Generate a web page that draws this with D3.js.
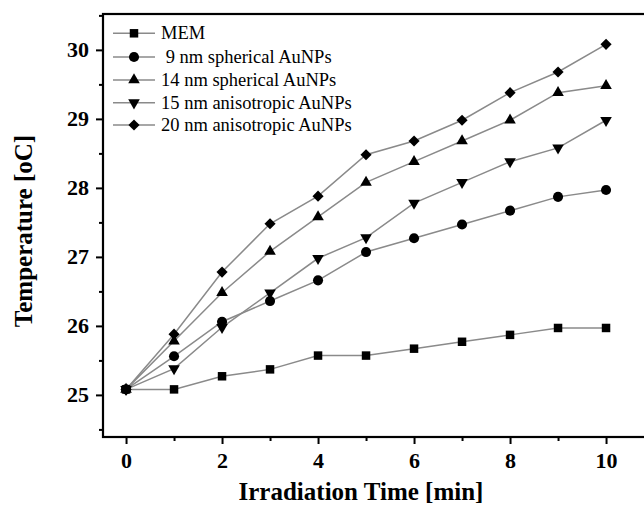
<!DOCTYPE html>
<html><head><meta charset="utf-8">
<script src="https://cdn.jsdelivr.net/npm/d3@7"></script>
<style>body{margin:0;background:#fff}svg{display:block}</style>
</head><body>
<svg id="c" width="644" height="508"></svg>
<script>
const times = [0,1,2,3,4,5,6,7,8,9,10];
const seriesNames = ["MEM"," 9 nm spherical AuNPs","14 nm spherical AuNPs","15 nm anisotropic AuNPs","20 nm anisotropic AuNPs"];
const mem      = [25.08,25.08,25.27,25.37,25.57,25.57,25.67,25.77,25.87,25.97,25.97];
const sph9     = [25.08,25.56,26.06,26.36,26.66,27.07,27.27,27.47,27.67,27.87,27.97];
const sph14    = [25.08,25.78,26.48,27.08,27.58,28.08,28.38,28.68,28.98,29.38,29.48];
const aniso15  = [25.08,25.38,25.98,26.48,26.98,27.28,27.78,28.08,28.38,28.58,28.98];
const aniso20  = [25.08,25.88,26.78,27.48,27.88,28.48,28.68,28.98,29.38,29.68,30.08];
const xTicks = [0,2,4,6,8,10];
const yTicks = [25,26,27,28,29,30];
const xTitle = "Irradiation Time [min]";
const yTitle = "Temperature [oC]";

const svg = d3.select("#c");
const L = 103, T = 14, B = 437, R = 660;
const x = d3.scaleLinear().domain([-0.48, 11.1]).range([L, L + 11.58*48]);
const y = d3.scaleLinear().domain([24.39, 30.52]).range([B, T]);

const seriesVals = [mem, sph9, sph14, aniso15, aniso20];
const sq = d3.symbol().type(d3.symbolSquare).size(72);
const circ = d3.symbol().type(d3.symbolCircle).size(80);
const tri = d3.symbol().type(d3.symbolTriangle).size(58);
const dia = d3.symbol().type(d3.symbolSquare).size(62);
const shapes = [
  {p: sq(), rot: 0},
  {p: circ(), rot: 0},
  {p: tri(), rot: 0},
  {p: tri(), rot: 180},
  {p: dia(), rot: 45}
];

const serif = "'Liberation Serif','Times New Roman',serif";

const xAxis = d3.axisBottom(x).tickValues(xTicks).tickSize(7).tickPadding(8).tickFormat(d3.format("d"));
const xMinor = d3.axisBottom(x).tickValues([1,3,5,7,9]).tickSize(4).tickFormat("");
const yAxis = d3.axisLeft(y).tickValues(yTicks).tickSize(7).tickPadding(7).tickFormat(d3.format("d"));
const yMinor = d3.axisLeft(y).tickValues([24.5,25.5,26.5,27.5,28.5,29.5,30.5]).tickSize(4).tickFormat("");

function styleAxis(g){
  g.select(".domain").remove();
  g.selectAll("line").attr("stroke","#000").attr("stroke-width",2);
  g.selectAll("text").attr("font-family",serif).attr("font-weight","bold").attr("font-size",22).attr("fill","#000");
}
svg.append("g").attr("transform",`translate(0,${B})`).call(xAxis).call(styleAxis);
svg.append("g").attr("transform",`translate(0,${B})`).call(xMinor).call(styleAxis);
svg.append("g").attr("transform",`translate(${L},0)`).call(yAxis).call(styleAxis);
svg.append("g").attr("transform",`translate(${L},0)`).call(yMinor).call(styleAxis);

svg.append("rect").attr("x",L).attr("y",T).attr("width",R-L).attr("height",B-T)
  .attr("fill","none").attr("stroke","#000").attr("stroke-width",2.2);

const line = d3.line().x((d,i)=>x(times[i])).y(d=>y(d));
seriesVals.forEach((vals)=>{
  svg.append("path").attr("d",line(vals)).attr("fill","none").attr("stroke","#8a8a8a").attr("stroke-width",1.5);
});
seriesVals.forEach((vals,si)=>{
  svg.append("g").selectAll("path").data(vals).join("path")
    .attr("d",shapes[si].p)
    .attr("transform",(d,i)=>`translate(${x(times[i])},${y(d)}) rotate(${shapes[si].rot})`)
    .attr("fill","#000");
});

const lg = svg.append("g");
const rowY = [33.3,57,80,102.7,125];
seriesNames.forEach((n,i)=>{
  lg.append("line").attr("x1",113).attr("x2",155).attr("y1",rowY[i]).attr("y2",rowY[i])
    .attr("stroke","#8a8a8a").attr("stroke-width",1.5);
  lg.append("path").attr("d",shapes[i].p).attr("transform",`translate(134,${rowY[i]}) rotate(${shapes[i].rot})`).attr("fill","#000");
  lg.append("text").attr("x",161).attr("y",rowY[i]+6).text(n)
    .attr("font-family",serif).attr("font-size",18.5).attr("fill","#000").style("white-space","pre");
});

svg.append("text").attr("x",361).attr("y",500).attr("text-anchor","middle").text(xTitle)
  .attr("font-family",serif).attr("font-weight","bold").attr("font-size",25).attr("fill","#000");
svg.append("text").attr("transform","translate(32,231) rotate(-90)").attr("text-anchor","middle").text(yTitle)
  .attr("font-family",serif).attr("font-weight","bold").attr("font-size",25).attr("fill","#000");
</script>
</body></html>
